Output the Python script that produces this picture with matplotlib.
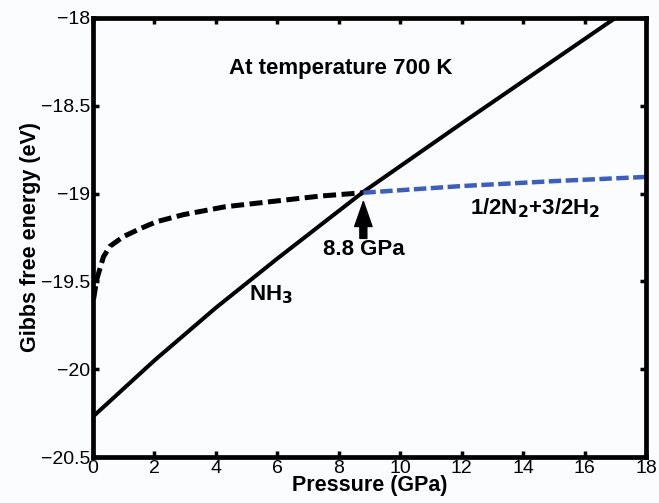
import matplotlib
matplotlib.use('Agg')
import matplotlib.pyplot as plt

plt.rcParams['font.family'] = ['Liberation Sans', 'DejaVu Sans']

# NH3 (solid)
p_nh3 = [0, 2, 4, 6, 8.8, 12, 17, 18]
g_nh3 = [-20.27, -19.95, -19.65, -19.37, -18.99, -18.60, -18.0, -17.88]

# 1/2N2 + 3/2H2 below the transition (black dashed)
p_mix_lo = [0.02, 0.12, 0.34, 0.55, 0.99, 1.53, 2.07, 2.94, 4.3, 5.77, 7.4, 8.8]
g_mix_lo = [-19.6, -19.49, -19.36, -19.30, -19.245, -19.20, -19.16, -19.12,
            -19.075, -19.046, -19.014, -18.995]

# above the transition (blue dashed)
p_mix_hi = [8.8, 12, 15, 18]
g_mix_hi = [-18.995, -18.957, -18.929, -18.905]

xticks = [0, 2, 4, 6, 8, 10, 12, 14, 16, 18]
yticks = [-20.5, -20, -19.5, -19, -18.5, -18]
yticklabels = ['\u221220.5', '\u221220', '\u221219.5', '\u221219', '\u221218.5', '\u221218']

fig = plt.figure(figsize=(6.59, 5.03), dpi=100, facecolor='#fbfcfe')
ax = fig.add_axes([93/659, 1 - 457/503, (646-93)/659, (457-18)/503])
ax.set_facecolor('#fbfcfe')

ax.plot(p_nh3, g_nh3, color='black', lw=2.9)
ax.plot(p_mix_lo, g_mix_lo, color='black', lw=3.6, dashes=(2.6, 1.1))
ax.plot(p_mix_hi, g_mix_hi, color='#3a5ec4', lw=3.2, dashes=(2.8, 1.0))

ax.annotate('', xy=(8.8, -19.045), xytext=(8.8, -19.255),
            arrowprops=dict(facecolor='black', edgecolor='black', width=5,
                            headwidth=12.5, headlength=18, shrink=0))

ax.text(8.05, -18.285, 'At temperature 700 K', fontsize=16, fontweight='bold',
        ha='center', va='center')
ax.text(8.83, -19.32, '8.8 GPa', fontsize=16, fontweight='bold',
        ha='center', va='center')
ax.text(14.4, -19.085, r'1/2N$_\mathbf{2}$+3/2H$_\mathbf{2}$', fontsize=16,
        fontweight='bold', ha='center', va='center')
ax.text(5.8, -19.575, r'NH$_\mathbf{3}$', fontsize=16, fontweight='bold',
        ha='center', va='center')

ax.set_xlim(0, 18)
ax.set_ylim(-20.5, -18)
ax.set_xticks(xticks)
ax.set_yticks(yticks)
ax.set_yticklabels(yticklabels)
ax.tick_params(direction='in', length=4, width=2.5, labelsize=14, pad=2,
               top=True, right=True)
for s in ax.spines.values():
    s.set_linewidth(3.4)

ax.set_xlabel('Pressure (GPa)', fontsize=15.5, fontweight='bold', labelpad=-1)
ax.set_ylabel('Gibbs free energy (eV)', fontsize=15.5, fontweight='bold', labelpad=0)

fig.savefig('out.png', dpi=100, facecolor=fig.get_facecolor())
